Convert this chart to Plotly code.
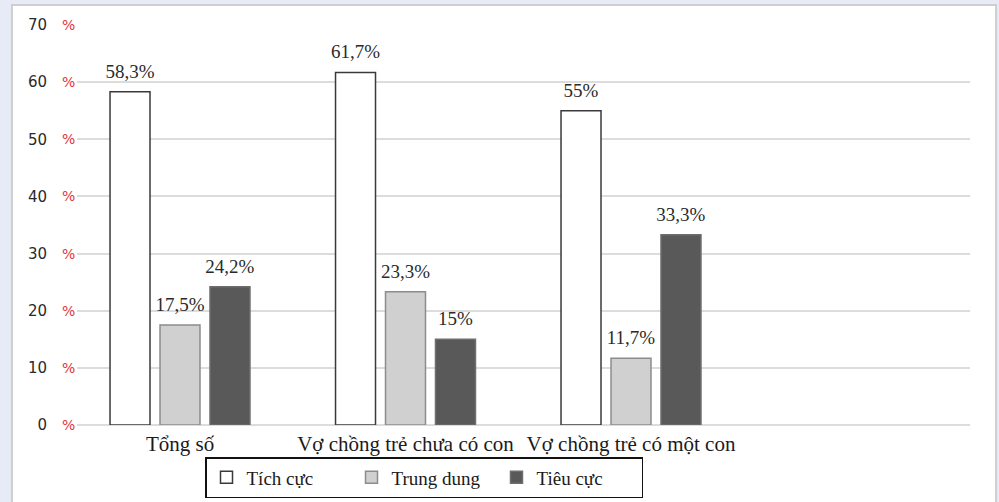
import plotly.graph_objects as go

categories = ["Tổng số", "Vợ chồng trẻ chưa có con", "Vợ chồng trẻ có một con"]
series_names = ["Tích cực", "Trung dung", "Tiêu cực"]
tich_cuc = [58.3, 61.7, 55.0]
trung_dung = [17.5, 23.3, 11.7]
tieu_cuc = [24.2, 15.0, 33.3]
labels_tich_cuc = ["58,3%", "61,7%", "55%"]
labels_trung_dung = ["17,5%", "23,3%", "11,7%"]
labels_tieu_cuc = ["24,2%", "15%", "33,3%"]
y_ticks = [0, 10, 20, 30, 40, 50, 60, 70]

x_pos = list(range(len(categories)))

styles = [
    dict(fill="#ffffff", line="#3a3a3a"),
    dict(fill="#d0d0d0", line="#8c8c8c"),
    dict(fill="#595959", line="#6e6e6e"),
]
values = [tich_cuc, trung_dung, tieu_cuc]
texts = [labels_tich_cuc, labels_trung_dung, labels_tieu_cuc]


def label_html(s):
    # big visible label plus a tiny invisible second line to lift it off the bar
    return ("<span style='font-size:19px'>" + s + "</span>"
            "<br><span style='color:rgba(0,0,0,0)'>.</span>")


fig = go.Figure()
for name, vals, txt, st in zip(series_names, values, texts, styles):
    fig.add_trace(go.Bar(
        x=x_pos, y=vals, name=name, text=[label_html(t) for t in txt],
        textposition="outside", cliponaxis=False, constraintext="none",
        textfont=dict(family="Liberation Serif", size=7, color="#2a2a2a"),
        marker=dict(color=st["fill"], line=dict(color=st["line"], width=1.5)),
    ))

W, H = 999, 502
L, R, T, B = 77, 29, 25, 77
pw, ph = W - L - R, H - T - B
center0 = 180
step = 225.5

# outer chart frame
fig.add_shape(type="rect", xref="paper", yref="paper", layer="below",
              x0=(12 - L) / pw, x1=(996 - L) / pw,
              y0=-(512 - (H - B)) / ph, y1=1 + (T - 5) / ph,
              fillcolor="white", line=dict(color="#cfcfcf", width=2))

# red percent signs next to y tick numbers
for v in y_ticks:
    fig.add_annotation(x=(68 - L) / pw, xref="paper", y=v, yref="y",
                       text="%", showarrow=False, xanchor="center",
                       font=dict(family="DejaVu Sans", size=14, color="#e2343a"))

fig.update_layout(
    width=W, height=H,
    margin=dict(l=L, r=R, t=T, b=B, autoexpand=False),
    paper_bgcolor="#e6ebf6", plot_bgcolor="rgba(0,0,0,0)",
    barmode="group", bargap=0.335, bargroupgap=0.2,
    showlegend=True,
    legend=dict(orientation="h", xref="container", yref="container",
                x=424 / W, xanchor="center",
                y=1 - 457 / H, yanchor="top",
                entrywidth=100, entrywidthmode="pixels",
                bordercolor="#111111", borderwidth=1.5, bgcolor="white",
                font=dict(family="Liberation Serif", size=19, color="#1a1a1a"),
                traceorder="normal"),
    xaxis=dict(range=[-(center0 - L) / step, (W - R - center0) / step],
               tickvals=x_pos, ticktext=categories, showgrid=False,
               zeroline=False, showline=False, ticks="", ticklabelstandoff=4,
               tickfont=dict(family="Liberation Serif", size=21, color="#1a1a1a")),
    yaxis=dict(range=[0, 70], tickvals=y_ticks, ticktext=[str(v) for v in y_ticks],
               showgrid=True, gridcolor="#dcdcdc", gridwidth=1.5,
               zeroline=True, zerolinecolor="#dcdcdc", zerolinewidth=1.5,
               showline=False, ticks="", ticklabelstandoff=29,
               tickfont=dict(family="DejaVu Sans", size=15, color="#2a2a2a")),
)

fig.write_html("out.html")
